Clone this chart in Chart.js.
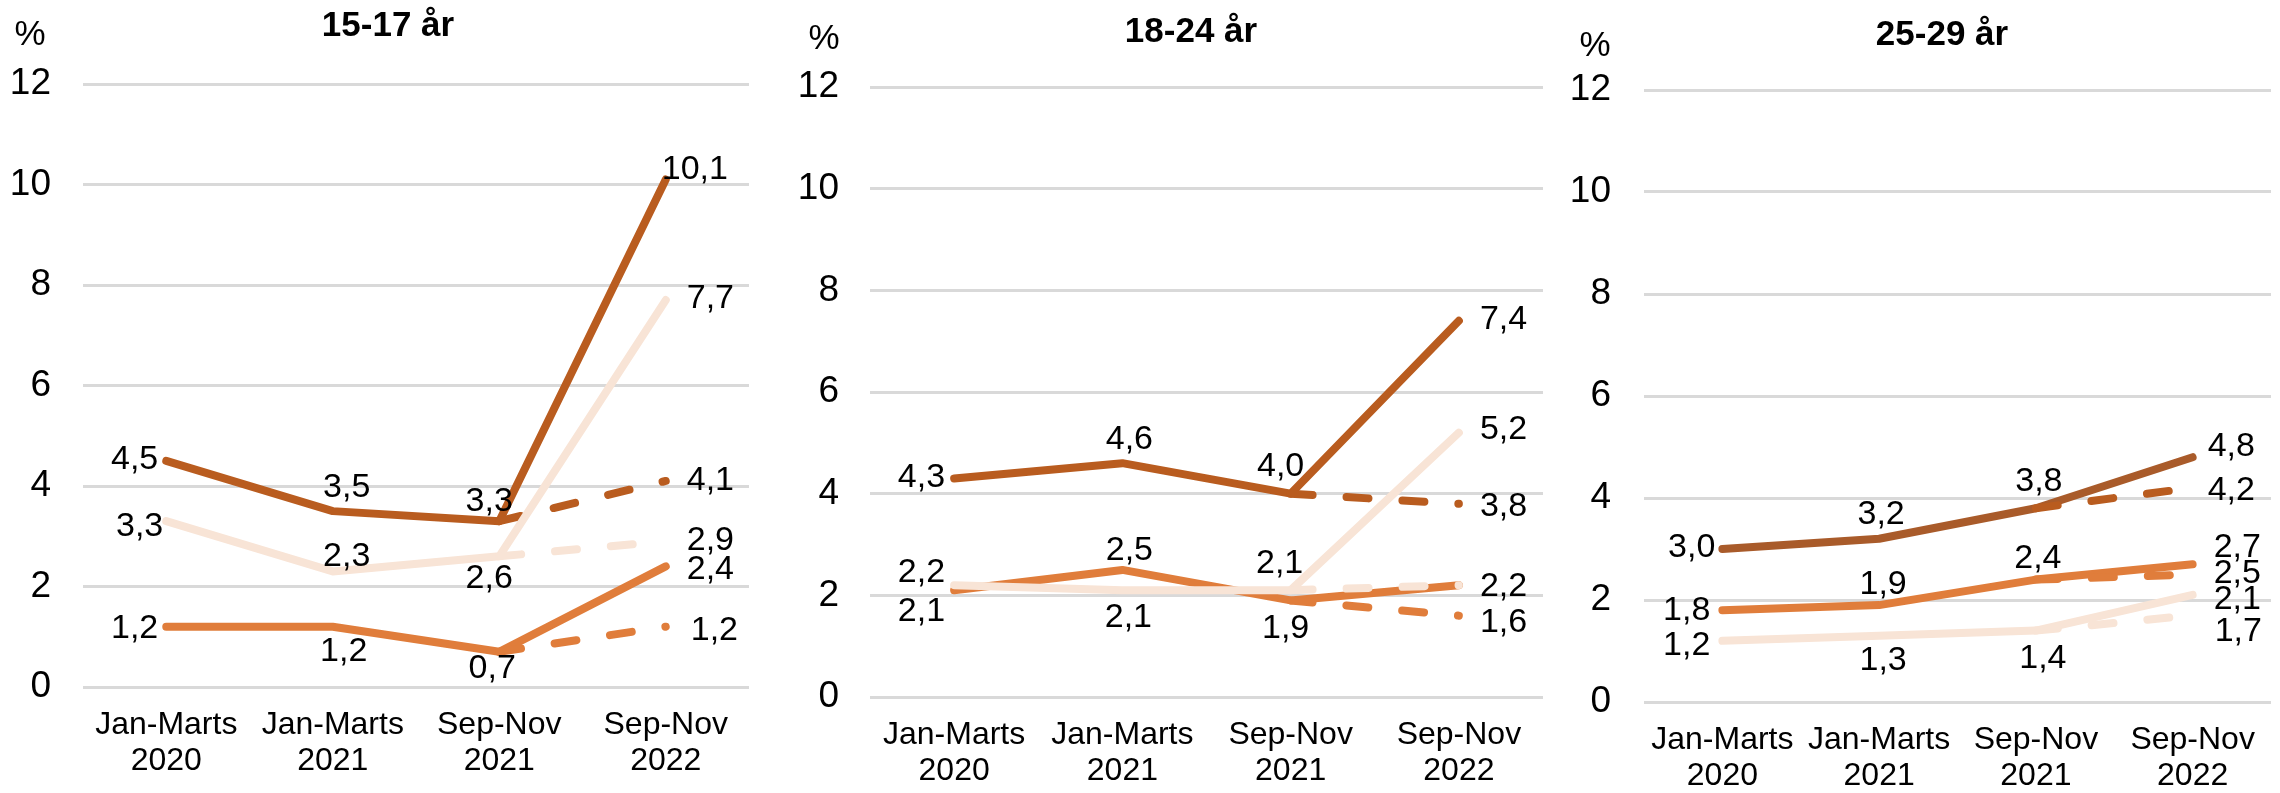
<!DOCTYPE html>
<html><head><meta charset="utf-8">
<script src="https://cdn.jsdelivr.net/npm/chart.js@4.4.1/dist/chart.umd.min.js"></script>
<style>
html,body{margin:0;padding:0;background:#fff;width:2280px;height:793px;overflow:hidden}
.p{position:absolute;top:0;height:793px}
canvas{display:block}
</style></head><body>
<div class="p" style="left:0;width:760px"><canvas id="c0" width="760" height="793"></canvas></div>
<div class="p" style="left:760px;width:790px"><canvas id="c1" width="790" height="793"></canvas></div>
<div class="p" style="left:1550px;width:730px"><canvas id="c2" width="730" height="793"></canvas></div>
<script>
// ---------- data ----------
const categories = [['Jan-Marts','2020'],['Jan-Marts','2021'],['Sep-Nov','2021'],['Sep-Nov','2022']];
const yTicks = [0, 2, 4, 6, 8, 10, 12];
const panelTitles = ['15-17 år', '18-24 år', '25-29 år'];

// 15-17 år
const p1Dark      = [4.5, 3.5, 3.3, 10.1];
const p1DarkDash  = [null, null, 3.3, 4.1];
const p1Mid       = [1.2, 1.2, 0.7, 2.4];
const p1MidDash   = [null, null, 0.7, 1.2];
const p1Light     = [3.3, 2.3, 2.6, 7.7];
const p1LightDash = [null, null, 2.6, 2.9];

// 18-24 år
const p2Dark      = [4.3, 4.6, 4.0, 7.4];
const p2DarkDash  = [null, null, 4.0, 3.8];
const p2Mid       = [2.1, 2.5, 1.9, 2.2];
const p2MidDash   = [null, null, 1.9, 1.6];
const p2Light     = [2.2, 2.1, 2.1, 5.2];
const p2LightDash = [null, null, 2.1, 2.2];

// 25-29 år
const p3Dark      = [3.0, 3.2, 3.8, 4.8];
const p3DarkDash  = [null, null, 3.8, 4.2];
const p3Mid       = [1.8, 1.9, 2.4, 2.7];
const p3MidDash   = [null, null, 2.4, 2.5];
const p3Light     = [1.2, 1.3, 1.4, 2.1];
const p3LightDash = [null, null, 1.4, 1.7];

// ---------- styling ----------
const FONT = '"Liberation Sans", Arial, Helvetica, sans-serif';
const C_DARK = '#B95C1F', C_MID = '#E07D3B', C_LIGHT = '#F8E4D6';

// label placements: [align, dx, dy] ; r = text ends at point+dx, c = centred, l = starts at point+dx
const panels = [
  { id:'c0', W:760, H:793, left:83, right:749, top:84, bottom:687, tickPad:32,
    title:{x:388,y:26}, pct:{x:30,y:35}, darkSolid:C_DARK,
    series:{dark:p1Dark, darkD:p1DarkDash, mid:p1Mid, midD:p1MidDash, light:p1Light, lightD:p1LightDash},
    labels:{
      dark:  [['r',-8,-1],['c',14,-24],['c',-10,-20],['l',-4,-10]],
      darkD: [null,null,null,['l',21,0]],
      light: [['r',-3,5],['c',14,-15],['c',-10,22],['l',21,-1]],
      lightD:[null,null,null,['l',21,-1]],
      mid:   [['r',-8,2],['c',11,25],['c',-7,17],['l',21,3]],
      midD:  [null,null,null,['l',25,4]]
    }},
  { id:'c1', W:790, H:793, left:110, right:783, top:87, bottom:697, tickPad:31,
    title:{x:431,y:32}, pct:{x:64,y:39}, darkSolid:C_DARK,
    series:{dark:p2Dark, darkD:p2DarkDash, mid:p2Mid, midD:p2MidDash, light:p2Light, lightD:p2LightDash},
    labels:{
      dark:  [['r',-9,-1],['c',7,-24],['c',-10,-27],['l',21,-1]],
      darkD: [null,null,null,['l',21,3]],
      mid:   [['r',-9,21],['c',7,-19],['c',-5,28],['l',21,1]],
      midD:  [null,null,null,['l',21,7]],
      light: [['r',-9,-13],['c',6,27],['c',-11,-27],['l',21,-3]],
      lightD:[null,null,null,null]
    }},
  { id:'c2', W:730, H:793, left:94, right:721, top:90, bottom:702, tickPad:33,
    title:{x:392,y:35}, pct:{x:45,y:46}, darkSolid:'#A95B2A',
    series:{dark:p3Dark, darkD:p3DarkDash, mid:p3Mid, midD:p3MidDash, light:p3Light, lightD:p3LightDash},
    labels:{
      dark:  [['r',-7,-1],['c',2,-24],['c',3,-27],['l',15,-11]],
      darkD: [null,null,null,['l',15,3]],
      mid:   [['r',-12,0],['c',4,-20],['c',2,-21],['l',21,-17]],
      midD:  [null,null,null,['l',21,-1]],
      light: [['r',-12,5],['c',4,25],['c',7,28],['l',21,5]],
      lightD:[null,null,null,['l',22,16]]
    }}
];

const fmt = v => v.toFixed(1).replace('.', ',');

const labelPlugin = {
  id: 'valueLabels',
  afterDatasetsDraw(chart) {
    const ctx = chart.ctx;
    ctx.save();
    ctx.font = '34px ' + FONT;
    ctx.fillStyle = '#000';
    ctx.textBaseline = 'middle';
    chart.data.datasets.forEach((ds, i) => {
      const meta = chart.getDatasetMeta(i);
      const pl = ds.labelPlacement || [];
      meta.data.forEach((pt, j) => {
        const p = pl[j];
        const v = ds.data[j];
        if (!p || v === null || v === undefined) return;
        ctx.textAlign = p[0] === 'r' ? 'right' : (p[0] === 'l' ? 'left' : 'center');
        ctx.fillText(fmt(v), pt.x + p[1], pt.y + p[2]);
      });
    });
    ctx.restore();
  }
};

const decorPlugin = {
  id: 'decor',
  afterDraw(chart, args, opts) {
    const ctx = chart.ctx;
    ctx.save();
    ctx.fillStyle = '#000';
    ctx.textAlign = 'center';
    ctx.textBaseline = 'middle';
    ctx.font = 'bold 35px ' + FONT;
    ctx.fillText(opts.title, opts.tx, opts.ty);
    ctx.font = '35px ' + FONT;
    ctx.fillText('%', opts.px, opts.py);
    ctx.restore();
  }
};

function ds(label, data, color, dashed, order, placement) {
  return {
    label, data, order,
    borderColor: color,
    backgroundColor: color,
    borderWidth: 8,
    borderDash: dashed ? [22, 34] : [],
    borderCapStyle: 'round',
    borderJoinStyle: 'round',
    pointRadius: 0, pointHoverRadius: 0,
    tension: 0, fill: false, spanGaps: false,
    labelPlacement: placement
  };
}

panels.forEach((P, k) => {
  const s = P.series, L = P.labels;
  new Chart(document.getElementById(P.id), {
    type: 'line',
    data: {
      labels: categories,
      datasets: [
        ds('Lys stiplet', s.lightD, C_LIGHT, true, 0, L.lightD),
        ds('Lys', s.light, C_LIGHT, false, 1, L.light),
        ds('Mørk stiplet', s.darkD, C_DARK, true, 2, L.darkD),
        ds('Mellem stiplet', s.midD, C_MID, true, 3, L.midD),
        ds('Mellem', s.mid, C_MID, false, 4, L.mid),
        ds('Mørk', s.dark, P.darkSolid, false, 5, L.dark)
      ]
    },
    options: {
      responsive: false,
      animation: false,
      events: [],
      layout: { padding: { left: 0, right: P.W - P.right, top: P.top, bottom: 0 } },
      plugins: {
        legend: { display: false },
        tooltip: { enabled: false },
        title: { display: false },
        decor: { title: panelTitles[k], tx: P.title.x, ty: P.title.y, px: P.pct.x, py: P.pct.y }
      },
      scales: {
        x: {
          type: 'category',
          offset: true,
          grid: { display: false, drawTicks: false },
          border: { display: false },
          ticks: { color: '#000', font: { family: FONT, size: 32, lineHeight: 1.12 }, padding: 20, maxRotation: 0, autoSkip: false },
          afterFit: sc => { sc.height = P.H - P.bottom; }
        },
        y: {
          min: yTicks[0], max: yTicks[yTicks.length - 1],
          grid: { color: '#D9D9D9', lineWidth: 3, drawTicks: false },
          border: { display: false },
          ticks: { color: '#000', font: { family: FONT, size: 37 }, padding: P.tickPad },
          afterBuildTicks: sc => { sc.ticks = yTicks.map(v => ({ value: v })); },
          afterFit: sc => { sc.width = P.left; }
        }
      }
    },
    plugins: [labelPlugin, decorPlugin]
  });
});
</script>
</body></html>
